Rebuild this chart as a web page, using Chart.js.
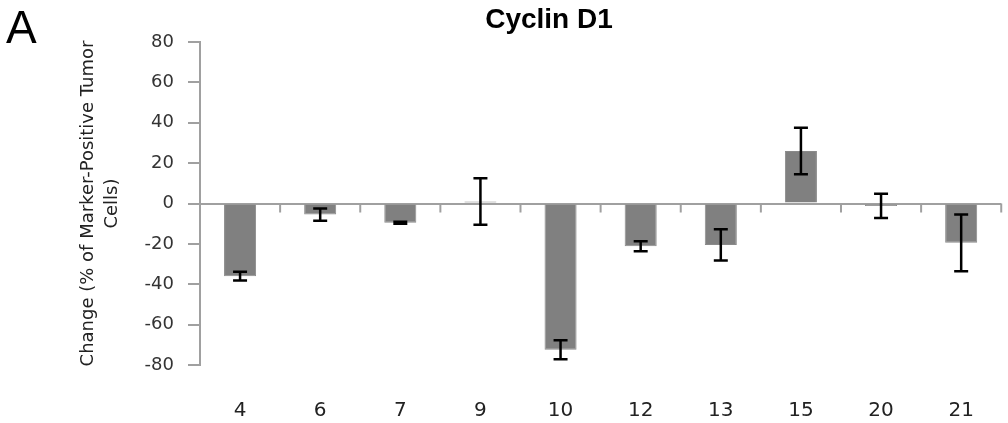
<!DOCTYPE html>
<html>
<head>
<meta charset="utf-8">
<script src="https://cdn.jsdelivr.net/npm/chart.js@4/dist/chart.umd.min.js"></script>
<style>
  html, body { margin: 0; padding: 0; background: #fff; }
  #wrap { width: 1008px; height: 423px; }
</style>
</head>
<body>
<div id="wrap"><canvas id="cyclin"></canvas></div>
<script>
const patients = ['4', '6', '7', '9', '10', '12', '13', '15', '20', '21'];
const change = [-36, -5.5, -9.5, 1, -72.5, -21.2, -20.5, 26, -1.2, -19.5];
const errors = [2.2, 3, 0.5, 11.5, 4.7, 2.5, 7.7, 11.5, 6, 14];
const yTicks = [-80, -60, -40, -20, 0, 20, 40, 60, 80];

const axisGray = '#a0a0a0';

// error bars on top of the bars
const errorBars = {
  id: 'errorBars',
  afterDatasetsDraw(chart) {
    const ctx = chart.ctx;
    const y = chart.scales.y;
    const meta = chart.getDatasetMeta(0);
    ctx.save();
    ctx.strokeStyle = '#000';
    ctx.lineWidth = 2.5;
    meta.data.forEach((bar, i) => {
      const top = y.getPixelForValue(change[i] + errors[i]);
      const bot = y.getPixelForValue(change[i] - errors[i]);
      ctx.beginPath();
      ctx.moveTo(bar.x, top); ctx.lineTo(bar.x, bot);
      ctx.moveTo(bar.x - 7, top); ctx.lineTo(bar.x + 7, top);
      ctx.moveTo(bar.x - 7, bot); ctx.lineTo(bar.x + 7, bot);
      ctx.stroke();
    });
    ctx.restore();
  }
};

// small ticks hanging from the zero line between categories, plus title and panel letter
const decorations = {
  id: 'decorations',
  afterDraw(chart) {
    const ctx = chart.ctx;
    const x = chart.scales.x;
    const y = chart.scales.y;
    const zero = y.getPixelForValue(0);
    const half = (x.getPixelForValue(1) - x.getPixelForValue(0)) / 2;
    ctx.save();
    ctx.strokeStyle = axisGray;
    ctx.lineWidth = 2;
    ctx.beginPath();
    for (let i = 0; i < patients.length; i++) {
      const bx = x.getPixelForValue(i) + half;
      ctx.moveTo(bx, zero); ctx.lineTo(bx, zero + 9);
    }
    ctx.stroke();

    ctx.fillStyle = '#000';
    ctx.textAlign = 'center';
    ctx.textBaseline = 'alphabetic';
    ctx.font = 'bold 28px "Liberation Sans", Arial, sans-serif';
    ctx.fillText('Cyclin D1', 549, 28);
    ctx.textAlign = 'left';
    ctx.font = '46px "Liberation Sans", Arial, sans-serif';
    ctx.fillText('A', 6, 43);
    ctx.restore();
  }
};

new Chart('cyclin', {
  type: 'bar',
  data: {
    labels: patients,
    datasets: [
      {
        data: change,
        backgroundColor: '#808080',
        borderColor: '#8a8a8a',
        borderWidth: 1,
        barPercentage: 0.4,
        categoryPercentage: 1.0,
      },
    ],
  },
  options: {
    responsive: true,
    maintainAspectRatio: false,
    animation: false,
    layout: { padding: { top: 42, right: 2, bottom: 0, left: 0 } },
    plugins: {
      legend: { display: false },
      tooltip: { enabled: false },
    },
    scales: {
      x: {
        afterFit(scale) { scale.height = 58; },
        grid: { display: false, drawTicks: false },
        border: { display: false },
        ticks: {
          padding: 34,
          color: '#222',
          font: { family: '"DejaVu Sans", Verdana, sans-serif', size: 20 },
        },
      },
      y: {
        min: -80,
        max: 80,
        afterFit(scale) { scale.width = 200; },
        afterBuildTicks(scale) { scale.ticks = yTicks.map(v => ({ value: v })); },
        grid: {
          color: ctx => (ctx.tick && ctx.tick.value === 0 ? axisGray : 'rgba(0,0,0,0)'),
          lineWidth: 2,
          tickColor: axisGray,
          tickLength: 12,
        },
        border: { display: true, color: axisGray, width: 2 },
        ticks: {
          padding: 14,
          color: '#333',
          font: { family: '"DejaVu Sans", Verdana, sans-serif', size: 18 },
        },
        title: {
          display: true,
          text: ['Change (% of Marker-Positive Tumor', 'Cells)'],
          color: '#222',
          padding: { top: 76 },
          font: { family: '"DejaVu Sans", Verdana, sans-serif', size: 18, lineHeight: 1.35 },
        },
      },
    },
  },
  plugins: [errorBars, decorations],
});
</script>
</body>
</html>
